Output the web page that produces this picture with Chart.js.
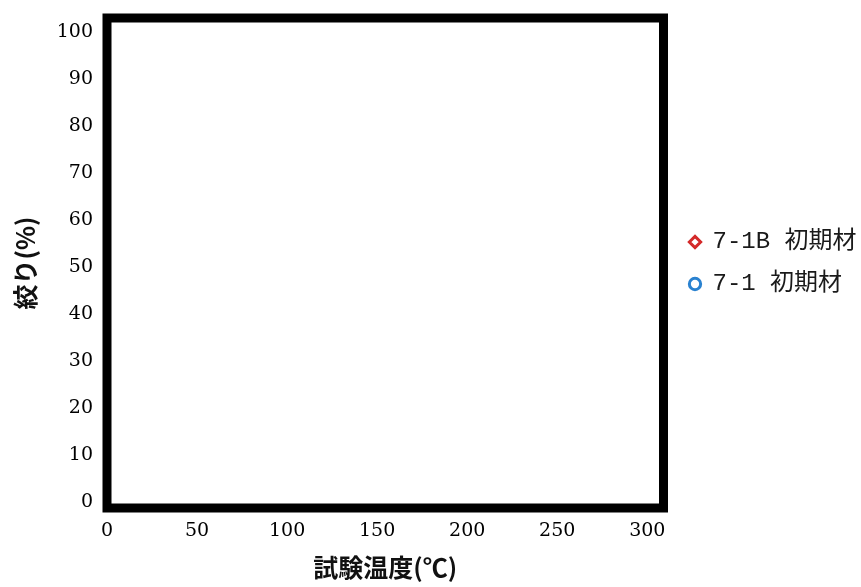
<!DOCTYPE html>
<html>
<head>
<meta charset="utf-8">
<script src="https://cdn.jsdelivr.net/npm/chart.js@4"></script>
<style>
  html, body { margin: 0; padding: 0; background: #ffffff; }
  #wrap { width: 861px; height: 587px; }
</style>
</head>
<body>
<div id="wrap"><canvas id="c" width="861" height="587"></canvas></div>
<script>
// ---- data (the reference plot contains no plotted points) ----
const seriesNames = ['7-1B 初期材', '7-1 初期材'];
const series71B = [];   // {x: 試験温度, y: 絞り}
const series71 = [];
const xTicks = [0, 50, 100, 150, 200, 250, 300];
const yTicks = [0, 10, 20, 30, 40, 50, 60, 70, 80, 90, 100];
const xTitle = '試験温度(℃)';
const yTitle = '絞り(%)';

const tickFont = { family: "'DejaVu Serif', 'Liberation Serif', serif", size: 19 };
const titleFont = { family: "'Noto Sans CJK JP', sans-serif", size: 25, weight: 'bold' };

const framePlugin = {
  id: 'frame',
  afterDraw(chart) {
    const a = chart.chartArea, ctx = chart.ctx;
    ctx.save();
    ctx.strokeStyle = '#000000';
    ctx.lineWidth = 9;
    ctx.lineJoin = 'miter';
    ctx.strokeRect(a.left, a.top, a.right - a.left, a.bottom - a.top);
    ctx.restore();
  }
};

new Chart(document.getElementById('c'), {
  type: 'scatter',
  data: {
    datasets: [
      {
        label: seriesNames[0],
        data: series71B,
        pointStyle: 'rectRot',
        borderColor: '#d42a2a',
        backgroundColor: '#ffffff',
        pointBorderColor: '#d42a2a',
        pointBackgroundColor: '#ffffff',
        pointBorderWidth: 3,
        borderWidth: 3
      },
      {
        label: seriesNames[1],
        data: series71,
        pointStyle: 'circle',
        borderColor: '#2a82d0',
        backgroundColor: '#ffffff',
        pointBorderColor: '#2a82d0',
        pointBackgroundColor: '#ffffff',
        pointBorderWidth: 3,
        borderWidth: 3
      }
    ]
  },
  options: {
    responsive: false,
    animation: false,
    layout: { padding: { top: 18, right: 0, bottom: 0, left: 0 } },
    plugins: {
      tooltip: { enabled: false },
      legend: {
        position: 'right',
        fullSize: false,
        align: 'center',
        maxWidth: 189.5,
        labels: {
          usePointStyle: true,
          boxWidth: 11,
          boxHeight: 8,
          padding: 18,
          color: '#1a1a1a',
          font: { family: "'Liberation Mono', 'Noto Sans CJK JP', monospace", size: 24 }
        }
      }
    },
    scales: {
      x: {
        type: 'linear',
        position: 'bottom',
        min: 0,
        max: 309,
        afterBuildTicks: s => { s.ticks = xTicks.map(v => ({ value: v })); },
        afterFit: s => { s.height = 79; },
        grid: { display: false, drawTicks: false },
        border: { display: false },
        ticks: { padding: 12, color: '#000000', font: tickFont, maxRotation: 0, autoSkip: false },
        title: { display: true, text: xTitle, color: '#111111', font: titleFont, padding: { top: 0, bottom: 4.5 } }
      },
      y: {
        type: 'linear',
        position: 'left',
        min: -1.2,
        max: 102.9,
        afterBuildTicks: s => { s.ticks = yTicks.map(v => ({ value: v })); },
        afterFit: s => { s.width = 107; },
        grid: { display: true, drawOnChartArea: false, drawTicks: true, tickLength: 8, color: 'rgba(0,0,0,0)' },
        border: { display: false },
        ticks: { padding: 6, color: '#000000', font: tickFont, autoSkip: false },
        title: { display: true, text: yTitle, color: '#111111', font: titleFont, padding: { top: 10, bottom: 0 } }
      },
      yGap: {
        type: 'linear',
        position: 'right',
        display: true,
        afterFit: s => { s.width = 8; },
        grid: { display: false, drawTicks: false },
        border: { display: false },
        ticks: { display: false }
      }
    }
  },
  plugins: [framePlugin]
});
</script>
</body>
</html>
